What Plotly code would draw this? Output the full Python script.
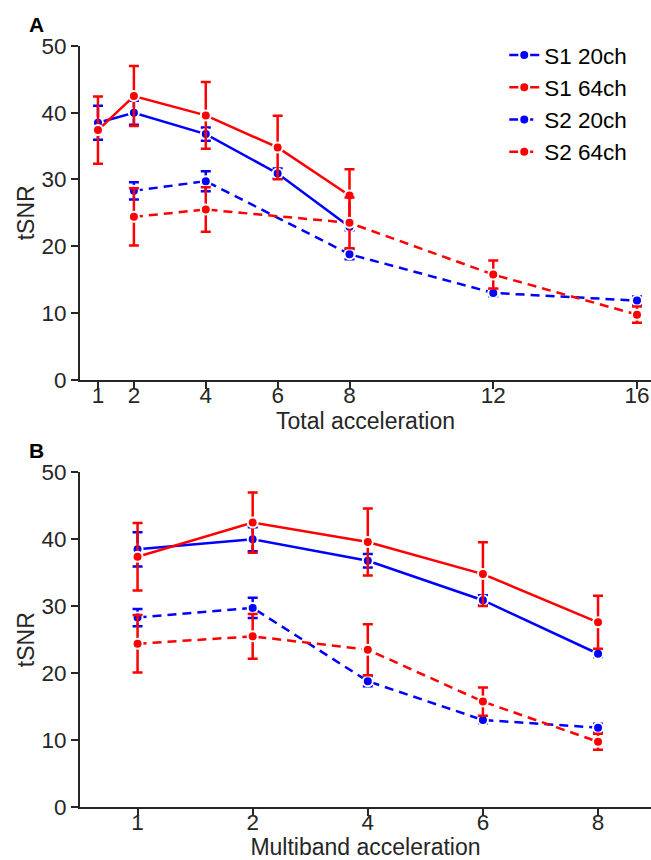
import plotly.graph_objects as go

# ---- data ----
total_accel_s1 = [1, 2, 4, 6, 8]
total_accel_s2 = [2, 4, 8, 12, 16]
mb_accel = ["1", "2", "4", "6", "8"]

s1_20ch = [38.5, 40.0, 36.8, 30.9, 22.9]
s1_20ch_err = [2.55, 1.8, 1.0, 0.75, 0.5]
s1_64ch = [37.4, 42.5, 39.6, 34.8, 27.6]
s1_64ch_err = [5.05, 4.5, 5.0, 4.75, 3.95]
s2_20ch = [28.3, 29.75, 18.8, 13.0, 11.85]
s2_20ch_err = [1.3, 1.5, 0.75, 0.5, 0.6]
s2_64ch = [24.4, 25.5, 23.5, 15.75, 9.75]
s2_64ch_err = [4.3, 3.35, 3.8, 2.1, 1.2]

names = ["S1 20ch", "S1 64ch", "S2 20ch", "S2 64ch"]
BLUE = "#0000FF"
RED = "#FF0000"
AX = "#262626"
FONT = "Liberation Sans, Arial, sans-serif"
FS = 23

series = [
    (names[0], s1_20ch, s1_20ch_err, BLUE, "solid", total_accel_s1),
    (names[1], s1_64ch, s1_64ch_err, RED, "solid", total_accel_s1),
    (names[2], s2_20ch, s2_20ch_err, BLUE, "9px,6px", total_accel_s2),
    (names[3], s2_64ch, s2_64ch_err, RED, "9px,6px", total_accel_s2),
]

fig = go.Figure()
for panel, (xa, ya) in enumerate([("x", "y"), ("x2", "y2")]):
    for name, vals, err, col, dash, xtot in series:
        xs = xtot if panel == 0 else mb_accel
        fig.add_trace(go.Scatter(
            x=xs, y=vals, name=name, xaxis=xa, yaxis=ya,
            mode="lines+markers",
            line=dict(color=col, width=2.5, dash=dash),
            marker=dict(symbol="circle", size=10, color=col,
                        line=dict(color="white", width=2)),
            error_y=dict(type="data", array=err, visible=True,
                         color=col, thickness=2.5, width=5),
            showlegend=(panel == 0),
        ))

axis_common = dict(
    showline=True, linecolor=AX, linewidth=2,
    ticks="outside", ticklen=7, tickwidth=2, tickcolor=AX,
    showgrid=False, zeroline=False,
    tickfont=dict(family=FONT, size=22.5, color=AX),
)
title_font = dict(family=FONT, size=FS, color=AX)

fig.update_layout(
    width=651, height=860,
    margin=dict(l=80, r=0, t=46, b=53),
    paper_bgcolor="white", plot_bgcolor="white",
    font=dict(family=FONT, size=FS, color=AX),
    xaxis=dict(axis_common, range=[0.5, 16.39],
               tickvals=[1, 2, 4, 6, 8, 12, 16], ticklabelstandoff=-13,
               anchor="y", domain=[0, 1],
               title=dict(text="Total acceleration", font=title_font, standoff=0)),
    yaxis=dict(axis_common, range=[0, 50], tickvals=[0, 10, 20, 30, 40, 50],
               domain=[0.5615, 1], anchor="x",
               title=dict(text="tSNR", font=title_font, standoff=0)),
    xaxis2=dict(axis_common, type="category", range=[-0.5, 4.46],
                ticklabelstandoff=-13,
                anchor="y2", domain=[0, 1],
                title=dict(text="Multiband acceleration", font=title_font, standoff=0)),
    yaxis2=dict(axis_common, range=[0, 50], tickvals=[0, 10, 20, 30, 40, 50],
                domain=[0, 0.4397], anchor="x2",
                title=dict(text="tSNR", font=title_font, standoff=0)),
    legend=dict(x=0.743, y=1.016, xanchor="left", yanchor="top",
                bgcolor="rgba(0,0,0,0)", font=dict(family=FONT, size=22.5, color="black"),
                traceorder="normal"),
    annotations=[
        dict(text="<b>A</b>", xref="paper", yref="paper", x=-0.0757, y=1.010,
             xanchor="center", yanchor="bottom", showarrow=False,
             font=dict(family=FONT, size=21, color="black")),
        dict(text="<b>B</b>", xref="paper", yref="paper", x=-0.0757, y=0.4505,
             xanchor="center", yanchor="bottom", showarrow=False,
             font=dict(family=FONT, size=21, color="black")),
    ],
)

fig.write_html("out.html", config={"displayModeBar": False},
               post_script="document.body.style.margin='0';")
